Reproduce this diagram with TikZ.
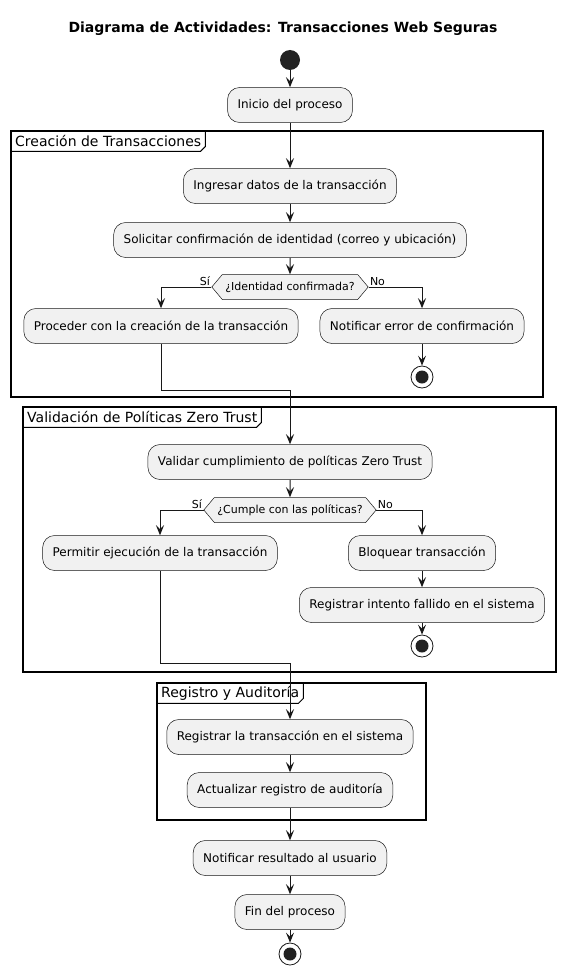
\documentclass[tikz,border=0pt]{standalone}
\usepackage{fontspec}
\setmainfont{DejaVu Sans}
\usetikzlibrary{arrows.meta,shapes.symbols}

\definecolor{boxfill}{HTML}{F1F1F1}
\definecolor{ink}{HTML}{181818}
\definecolor{dot}{HTML}{222222}

\tikzset{
  act/.style={draw=ink, line width=0.5pt, fill=boxfill, rounded corners=12pt,
    minimum height=35pt, inner xsep=10pt, font=\fontsize{12}{14}\selectfont},
  choice/.style={draw=ink, line width=0.5pt, fill=boxfill, signal,
    signal to=west and east, signal pointer angle=100, minimum height=25pt,
    inner xsep=3pt, font=\fontsize{11}{13}\selectfont},
  startdot/.style={circle, fill=dot, minimum size=20pt, inner sep=0pt},
  stopdot/.style={circle, draw=ink, line width=0.8pt, fill=white, minimum size=22pt, inner sep=0pt,
    path picture={\fill[dot] (path picture bounding box.center) circle (6.5pt);}},
  flow/.style={draw=ink, line width=1pt, -{Stealth[length=10pt,width=8pt,inset=4pt]}},
  guard/.style={font=\fontsize{11}{13}\selectfont, inner sep=1pt},
  frm/.style={draw=black, line width=1.5pt},
  tabline/.style={draw=black, line width=1pt},
  tab/.style={anchor=north west, inner xsep=4pt, inner ysep=0pt, minimum height=20pt,
    font=\fontsize{14}{16}\selectfont},
}

\begin{document}
\begin{tikzpicture}[x=1pt, y=-1pt]
  \useasboundingbox (0,0) rectangle (566,979);

  \node[font=\fontsize{14}{16}\selectfont\bfseries] (title) at (283,29)
    {Diagrama de Actividades: Transacciones Web Seguras};

  % frames
  \draw[frm] (11,131) rectangle (543,397);
  \node[tab] (f1) at (11,131) {Creación de Transacciones};
  \draw[tabline] (f1.south west) -- ([xshift=-5pt]f1.south east) -- ([yshift=5pt]f1.south east) -- (f1.north east);

  \draw[frm] (23,407) rectangle (556,672);
  \node[tab] (f2) at (23,407) {Validación de Políticas Zero Trust};
  \draw[tabline] (f2.south west) -- ([xshift=-5pt]f2.south east) -- ([yshift=5pt]f2.south east) -- (f2.north east);

  \draw[frm] (157,683) rectangle (426,820);
  \node[tab] (f3) at (157,683) {Registro y Auditoría};
  \draw[tabline] (f3.south west) -- ([xshift=-5pt]f3.south east) -- ([yshift=5pt]f3.south east) -- (f3.north east);

  % activities
  \node[startdot] (st) at (290,60) {};
  \node[act] (a0) at (290,105) {Inicio del proceso};
  \node[act] (a1) at (290,186) {Ingresar datos de la transacción};
  \node[act] (a2) at (290,240) {Solicitar confirmación de identidad (correo y ubicación)};
  \node[choice] (d1) at (290,287) {¿Identidad confirmada?};
  \node[act] (a3) at (161,326) {Proceder con la creación de la transacción};
  \node[act] (a4) at (422,326) {Notificar error de confirmación};
  \node[stopdot] (e1) at (422,377) {};
  \coordinate (j1) at (290,390);

  \node[act] (a5) at (290,462) {Validar cumplimiento de políticas Zero Trust};
  \node[choice] (d2) at (290,510) {¿Cumple con las políticas?};
  \node[act] (a6) at (160,553) {Permitir ejecución de la transacción};
  \node[act] (a7) at (422,553) {Bloquear transacción};
  \node[act] (a8) at (422,605) {Registrar intento fallido en el sistema};
  \node[stopdot] (e2) at (422,646) {};
  \coordinate (j2) at (290,663);

  \node[act] (a9) at (290,737) {Registrar la transacción en el sistema};
  \node[act] (a10) at (290,790) {Actualizar registro de auditoría};
  \node[act] (a11) at (290,858) {Notificar resultado al usuario};
  \node[act] (a12) at (290,912) {Fin del proceso};
  \node[stopdot] (e3) at (290,954) {};

  % connectors
  \draw[flow] (st) -- (a0);
  \draw[flow] (a0) -- (a1);
  \draw[flow] (a1) -- (a2);
  \draw[flow] (a2) -- (d1);
  \draw[flow] (d1.west) -| node[guard, pos=0, above left] {Sí} (a3.north);
  \draw[flow] (d1.east) -| node[guard, pos=0, above right] {No} (a4.north);
  \draw[flow] (a4) -- (e1);
  \draw[flow] (a3.south) -- (a3.south |- j1) -| (a5.north);

  \draw[flow] (a5) -- (d2);
  \draw[flow] (d2.west) -| node[guard, pos=0, above left] {Sí} (a6.north);
  \draw[flow] (d2.east) -| node[guard, pos=0, above right] {No} (a7.north);
  \draw[flow] (a7) -- (a8);
  \draw[flow] (a8) -- (e2);
  \draw[flow] (a6.south) -- (a6.south |- j2) -| (a9.north);

  \draw[flow] (a9) -- (a10);
  \draw[flow] (a10) -- (a11);
  \draw[flow] (a11) -- (a12);
  \draw[flow] (a12) -- (e3);
\end{tikzpicture}
\end{document}
